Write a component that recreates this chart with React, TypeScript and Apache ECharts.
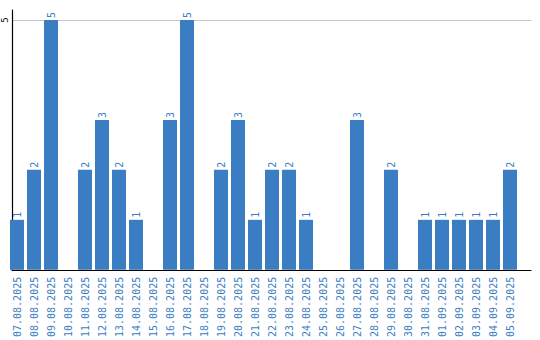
import React, { useEffect, useRef } from "react";
import * as echarts from "echarts";

const categories = [
  "07.08.2025", "08.08.2025", "09.08.2025", "10.08.2025", "11.08.2025",
  "12.08.2025", "13.08.2025", "14.08.2025", "15.08.2025", "16.08.2025",
  "17.08.2025", "18.08.2025", "19.08.2025", "20.08.2025", "21.08.2025",
  "22.08.2025", "23.08.2025", "24.08.2025", "25.08.2025", "26.08.2025",
  "27.08.2025", "28.08.2025", "29.08.2025", "30.08.2025", "31.08.2025",
  "01.09.2025", "02.09.2025", "03.09.2025", "04.09.2025", "05.09.2025",
];
const values = [1, 2, 5, 0, 2, 3, 2, 1, 0, 3, 5, 0, 2, 3, 1, 2, 2, 1, 0, 0, 3, 0, 2, 0, 1, 1, 1, 1, 1, 2];
const yTicks = [5];
const yMax = 5.2;

export default function App() {
  const ref = useRef<HTMLDivElement>(null);
  useEffect(() => {
    if (!ref.current) return;
    const chart = echarts.init(ref.current, undefined, { renderer: "svg" });
    chart.setOption({
      animation: false,
      grid: [
        { left: 8.5, right: 21.5, top: 10, bottom: 70, containLabel: false },
        { left: 10, right: 9, top: 10, bottom: 70, containLabel: false },
      ],
      xAxis: [
        {
          type: "category",
          gridIndex: 0,
          data: categories,
          axisLine: { show: false },
          axisTick: { show: false },
          axisLabel: {
            rotate: 90,
            interval: 0,
            color: "#3b7dc2",
            fontFamily: "DejaVu Sans Mono",
            fontSize: 10,
            margin: 7,
          },
        },
        {
          type: "value",
          gridIndex: 1,
          min: 0,
          max: 1,
          axisLine: { show: true, onZero: false, lineStyle: { color: "#000", width: 1.2 } },
          axisTick: { show: false },
          axisLabel: { show: false },
          splitLine: { show: false },
        },
      ],
      yAxis: [
        {
          type: "value",
          gridIndex: 0,
          min: 0,
          max: yMax,
          show: false,
        },
        {
          type: "value",
          gridIndex: 1,
          min: 0,
          max: yMax,
          interval: 5,
          axisLine: { show: true, onZero: false, lineStyle: { color: "#000", width: 1.2 } },
          axisTick: { show: false },
          splitLine: { lineStyle: { color: ["rgba(0,0,0,0)", "#c8c8c8", "rgba(0,0,0,0)"], width: 1.2 } },
          axisLabel: {
            rotate: 90,
            color: "#000",
            fontFamily: "DejaVu Sans Mono",
            fontSize: 9,
            margin: 3,
            formatter: (v: number) => (yTicks.includes(v) ? String(v) : ""),
          },
        },
      ],
      series: [
        {
          type: "bar",
          xAxisIndex: 0,
          yAxisIndex: 0,
          data: values.map((v) => (v === 0 ? null : v)),
          barWidth: 14,
          itemStyle: { color: "#3b7dc2" },
          label: {
            show: true,
            position: "top",
            rotate: 90,
            align: "left",
            verticalAlign: "middle",
            distance: 2,
            color: "#3b7dc2",
            fontFamily: "DejaVu Sans Mono",
            fontSize: 10,
          },
        },
      ],
    });
    return () => chart.dispose();
  }, []);
  return <div ref={ref} style={{ width: 540, height: 340, position: "absolute", left: 0, top: 0 }} />;
}
